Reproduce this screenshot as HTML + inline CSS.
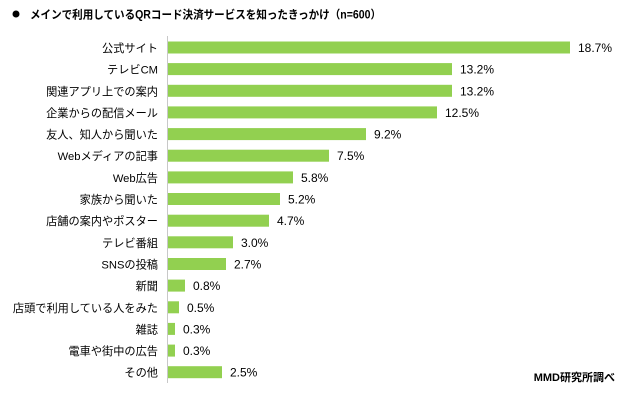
<!DOCTYPE html><html><head><meta charset="utf-8"><style>body{margin:0;background:#fff}svg{display:block}text{font-family:"Liberation Sans","Noto Sans CJK JP",sans-serif}</style></head><body>
<svg width="630" height="400" xmlns="http://www.w3.org/2000/svg">
<circle cx="16" cy="14" r="3.5" fill="#000"/>
<text x="30" y="18.5" font-size="11.5" font-weight="bold" fill="#000" textLength="351" lengthAdjust="spacingAndGlyphs">メインで利用しているQRコード決済サービスを知ったきっかけ（n=600）</text>
<line x1="167.5" y1="36" x2="167.5" y2="383" stroke="#c8c8c8" stroke-width="1"/>
<g font-size="12" fill="#000">
<g font-size="11.2">
<text x="158" y="52" text-anchor="end">公式サイト</text>
<text x="158" y="73.6" text-anchor="end">テレビCM</text>
<text x="158" y="95.3" text-anchor="end">関連アプリ上での案内</text>
<text x="158" y="116.9" text-anchor="end">企業からの配信メール</text>
<text x="158" y="138.6" text-anchor="end">友人、知人から聞いた</text>
<text x="158" y="160.2" text-anchor="end">Webメディアの記事</text>
<text x="158" y="181.9" text-anchor="end">Web広告</text>
<text x="158" y="203.5" text-anchor="end">家族から聞いた</text>
<text x="158" y="225.2" text-anchor="end">店舗の案内やポスター</text>
<text x="158" y="246.8" text-anchor="end">テレビ番組</text>
<text x="158" y="268.5" text-anchor="end">SNSの投稿</text>
<text x="158" y="290.1" text-anchor="end">新聞</text>
<text x="158" y="311.8" text-anchor="end">店頭で利用している人をみた</text>
<text x="158" y="333.4" text-anchor="end">雑誌</text>
<text x="158" y="355.1" text-anchor="end">電車や街中の広告</text>
<text x="158" y="376.7" text-anchor="end">その他</text>
</g>
<rect x="168" y="41.5" width="402" height="12" fill="#92d050"/><text x="578" y="52">18.7%</text>
<rect x="168" y="63.1" width="284" height="12" fill="#92d050"/><text x="460" y="73.6">13.2%</text>
<rect x="168" y="84.8" width="284" height="12" fill="#92d050"/><text x="460" y="95.3">13.2%</text>
<rect x="168" y="106.4" width="269" height="12" fill="#92d050"/><text x="445" y="116.9">12.5%</text>
<rect x="168" y="128.1" width="198" height="12" fill="#92d050"/><text x="374" y="138.6">9.2%</text>
<rect x="168" y="149.7" width="161" height="12" fill="#92d050"/><text x="337" y="160.2">7.5%</text>
<rect x="168" y="171.4" width="125" height="12" fill="#92d050"/><text x="301" y="181.9">5.8%</text>
<rect x="168" y="193" width="112" height="12" fill="#92d050"/><text x="288" y="203.5">5.2%</text>
<rect x="168" y="214.7" width="101" height="12" fill="#92d050"/><text x="277" y="225.2">4.7%</text>
<rect x="168" y="236.3" width="65" height="12" fill="#92d050"/><text x="241" y="246.8">3.0%</text>
<rect x="168" y="258" width="58" height="12" fill="#92d050"/><text x="234" y="268.5">2.7%</text>
<rect x="168" y="279.6" width="17" height="12" fill="#92d050"/><text x="193" y="290.1">0.8%</text>
<rect x="168" y="301.3" width="11" height="12" fill="#92d050"/><text x="187" y="311.8">0.5%</text>
<rect x="168" y="322.9" width="7" height="12" fill="#92d050"/><text x="183" y="333.4">0.3%</text>
<rect x="168" y="344.6" width="7" height="12" fill="#92d050"/><text x="183" y="355.1">0.3%</text>
<rect x="168" y="366.2" width="54" height="12" fill="#92d050"/><text x="230" y="376.7">2.5%</text>
</g>
<text x="615" y="381" text-anchor="end" font-size="11" font-weight="bold" fill="#000">MMD研究所調べ</text>
</svg></body></html>
